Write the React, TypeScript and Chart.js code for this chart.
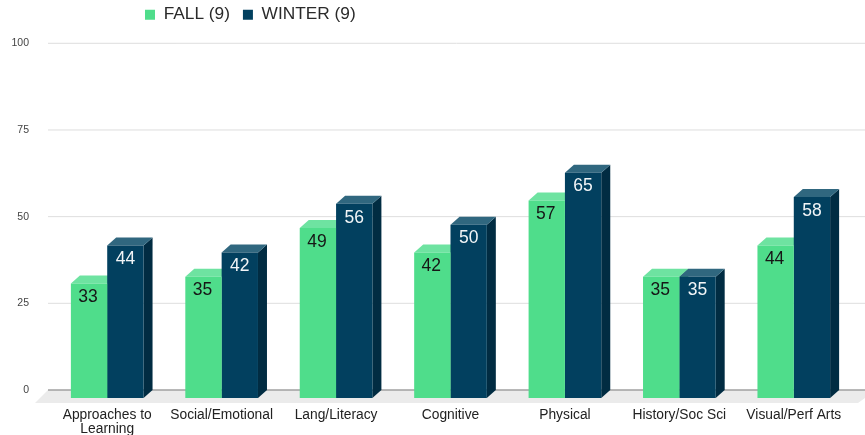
import React, { useEffect, useRef } from "react";
import { Chart, registerables } from "chart.js";

Chart.register(...registerables);

const categories = [
  ["Approaches to", "Learning"],
  "Social/Emotional",
  "Lang/Literacy",
  "Cognitive",
  "Physical",
  "History/Soc Sci",
  "Visual/Perf Arts",
];
const fallValues = [33, 35, 49, 42, 57, 35, 44];
const winterValues = [44, 42, 56, 50, 65, 35, 58];
const yTicks = [0, 25, 50, 75, 100];

const FONT = "'Liberation Sans', Arial, sans-serif";
const DX = 9;
const DY = 8;
const faces = [
  { front: "#4fdd8b", top: "#6ee3a1", side: "#3cb170", text: "#161616" },
  { front: "#02405f", top: "#30677f", side: "#012c42", text: "#f2f5f7" },
];

function poly(ctx: CanvasRenderingContext2D, pts: number[][], fill: string) {
  ctx.fillStyle = fill;
  ctx.beginPath();
  pts.forEach(([x, y], i) => (i ? ctx.lineTo(x, y) : ctx.moveTo(x, y)));
  ctx.closePath();
  ctx.fill();
}

const stage3d = {
  id: "stage3d",
  afterLayout(chart: any) {
    const legend = chart.legend;
    legend.left = 132;
    legend.right = 471;
    legend.top = -7;
  },
  beforeDatasetsDraw(chart: any) {
    const { ctx, scales } = chart;
    const base = scales.y.getPixelForValue(0);
    // floor
    poly(ctx, [[35, base + 13], [48, base], [865, base], [865, base + 8], [858, base + 13]], "#ebebeb");
    // back-wall grid
    ctx.save();
    yTicks.forEach((t) => {
      const y = scales.y.getPixelForValue(t);
      ctx.strokeStyle = t === 0 ? "#a0a0a0" : "#dedede";
      ctx.lineWidth = t === 0 ? 1.5 : 1;
      ctx.beginPath();
      ctx.moveTo(48, y);
      ctx.lineTo(865, y);
      ctx.stroke();
    });
    ctx.restore();
    // depth faces, then shift fronts forward
    ctx.save();
    ctx.translate(0, DY);
    chart.data.datasets.forEach((_: any, di: number) => {
      const meta = chart.getDatasetMeta(di);
      const f = faces[di];
      meta.data.forEach((bar: any) => {
        const { x, y, base: b, width } = bar.getProps(["x", "y", "base", "width"], true);
        const l = x - width / 2;
        const r = x + width / 2;
        poly(ctx, [[r, y], [r + DX, y - DY], [r + DX, b - DY], [r, b]], f.side);
        poly(ctx, [[l, y], [l + DX, y - DY], [r + DX, y - DY], [r, y]], f.top);
      });
    });
  },
  afterDatasetsDraw(chart: any) {
    const { ctx } = chart;
    ctx.textAlign = "center";
    ctx.textBaseline = "middle";
    ctx.font = `17.5px ${FONT}`;
    chart.data.datasets.forEach((ds: any, di: number) => {
      const meta = chart.getDatasetMeta(di);
      ctx.fillStyle = faces[di].text;
      meta.data.forEach((bar: any, i: number) => {
        const { x, y } = bar.getProps(["x", "y"], true);
        ctx.fillText(String(ds.data[i]), x - (di === 0 ? 1 : 0), y + 14);
      });
    });
    ctx.restore();
  },
};

export default function App() {
  const ref = useRef<HTMLCanvasElement>(null);
  useEffect(() => {
    const chart = new Chart(ref.current!, {
      type: "bar",
      data: {
        labels: categories as any,
        datasets: [
          { label: "FALL (9)", data: fallValues, backgroundColor: faces[0].front },
          { label: "WINTER (9)", data: winterValues, backgroundColor: faces[1].front },
        ],
      },
      options: {
        animation: false,
        responsive: false,
        maintainAspectRatio: false,
        layout: { padding: { top: 3, right: 14, bottom: 0, left: 0 } },
        datasets: { bar: { categoryPercentage: 0.635, barPercentage: 1 } },
        plugins: {
          tooltip: { enabled: false },
          legend: {
            position: "top",
            align: "start",
            labels: {
              boxWidth: 10,
              boxHeight: 10,
              padding: 13,
              color: "#2a2a2a",
              font: { family: FONT, size: 17.3 },
            },
          },
        },
        scales: {
          x: {
            afterFit: (s: any) => { s.height = 45; },
            grid: { display: false },
            border: { display: false },
            ticks: {
              color: "#222222",
              padding: 10,
              maxRotation: 0,
              autoSkip: false,
              font: { family: FONT, size: 13.8, lineHeight: 1.0 },
            },
          },
          y: {
            min: 0,
            max: 100,
            afterFit: (s: any) => { s.width = 50; },
            afterBuildTicks: (s: any) => { s.ticks = yTicks.map((value) => ({ value })); },
            grid: { display: false, drawTicks: false },
            border: { display: false },
            ticks: {
              color: "#444444",
              padding: 21,
              font: { family: FONT, size: 10.5 },
            },
          },
        },
      },
      plugins: [stage3d],
    });
    return () => chart.destroy();
  }, []);
  return (
    <div style={{ position: "fixed", left: 0, top: 0, width: 865, height: 435 }}>
      <canvas ref={ref} width={865} height={435} style={{ display: "block", width: 865, height: 435, filter: "blur(0.35px)" }} />
    </div>
  );
}
